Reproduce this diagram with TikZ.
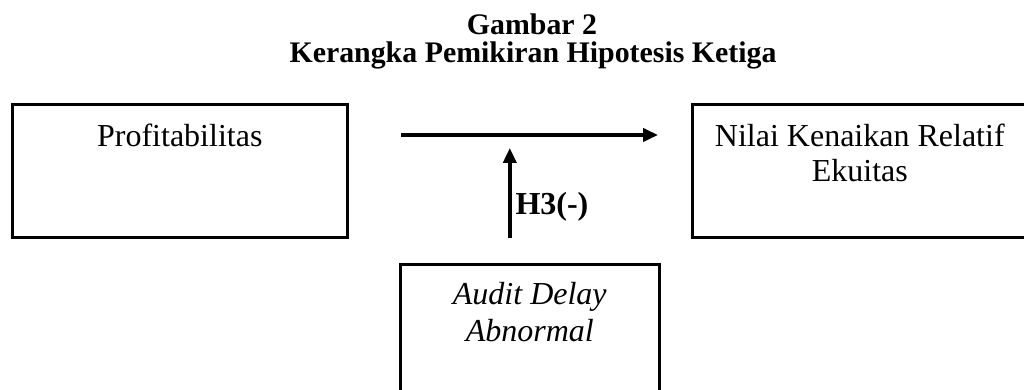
\documentclass[tikz,border=0pt]{standalone}
\usepackage{fontspec}
\setmainfont{Liberation Serif}
\usetikzlibrary{arrows.meta}

\tikzset{
	kotak/.style={draw, line width=1pt, inner sep=0pt, align=center,
		font=\fontsize{12}{13.2}\selectfont},
	judulteks/.style={font=\bfseries\fontsize{11.2}{12}\selectfont, inner sep=0pt},
	panah/.style={line width=1.3pt, -{Triangle[length=5.6pt,width=4.9pt]}}
}

\begin{document}
\begin{tikzpicture}[x=0.375pt, y=-0.375pt]
	\useasboundingbox (0,0) rectangle (1024,390);
	\clip (0,0) rectangle (1024,390);
	% judul gambar
	\node[judulteks, anchor=base] (gambar) at (532,35) {Gambar 2};
	\node[judulteks, anchor=base] (judul) at ([shift={(1,28)}]gambar.base) {Kerangka Pemikiran Hipotesis Ketiga};
	% variabel
	\node[kotak, anchor=north west, minimum width=125.6pt, text height=15.75pt, text depth=34.1pt] (prof) at (11,103) {Profitabilitas};
	\node[kotak, anchor=north west, minimum width=125.6pt, text height=28.9pt, text depth=21pt] (nilai) at (691,103) {Nilai Kenaikan Relatif\\Ekuitas};
	\node[kotak, anchor=north west, minimum width=97.1pt, text height=28.9pt, text depth=42pt, font=\itshape\fontsize{12}{13.9}\selectfont] (audit) at (399,263) {Audit Delay\\Abnormal};
	% hubungan
	\draw[panah] ([shift={(52,32)}]prof.north east) -- ([shift={(-33,32)}]nilai.north west);
	\draw[panah] ([shift={(-20,-25)}]audit.north) -- ([shift={(-20,-115)}]audit.north)
		node[pos=0.256, anchor=base west, font=\bfseries\fontsize{12}{14}\selectfont, inner sep=1.5pt] (h3) {H3(-)};
\end{tikzpicture}
\end{document}
